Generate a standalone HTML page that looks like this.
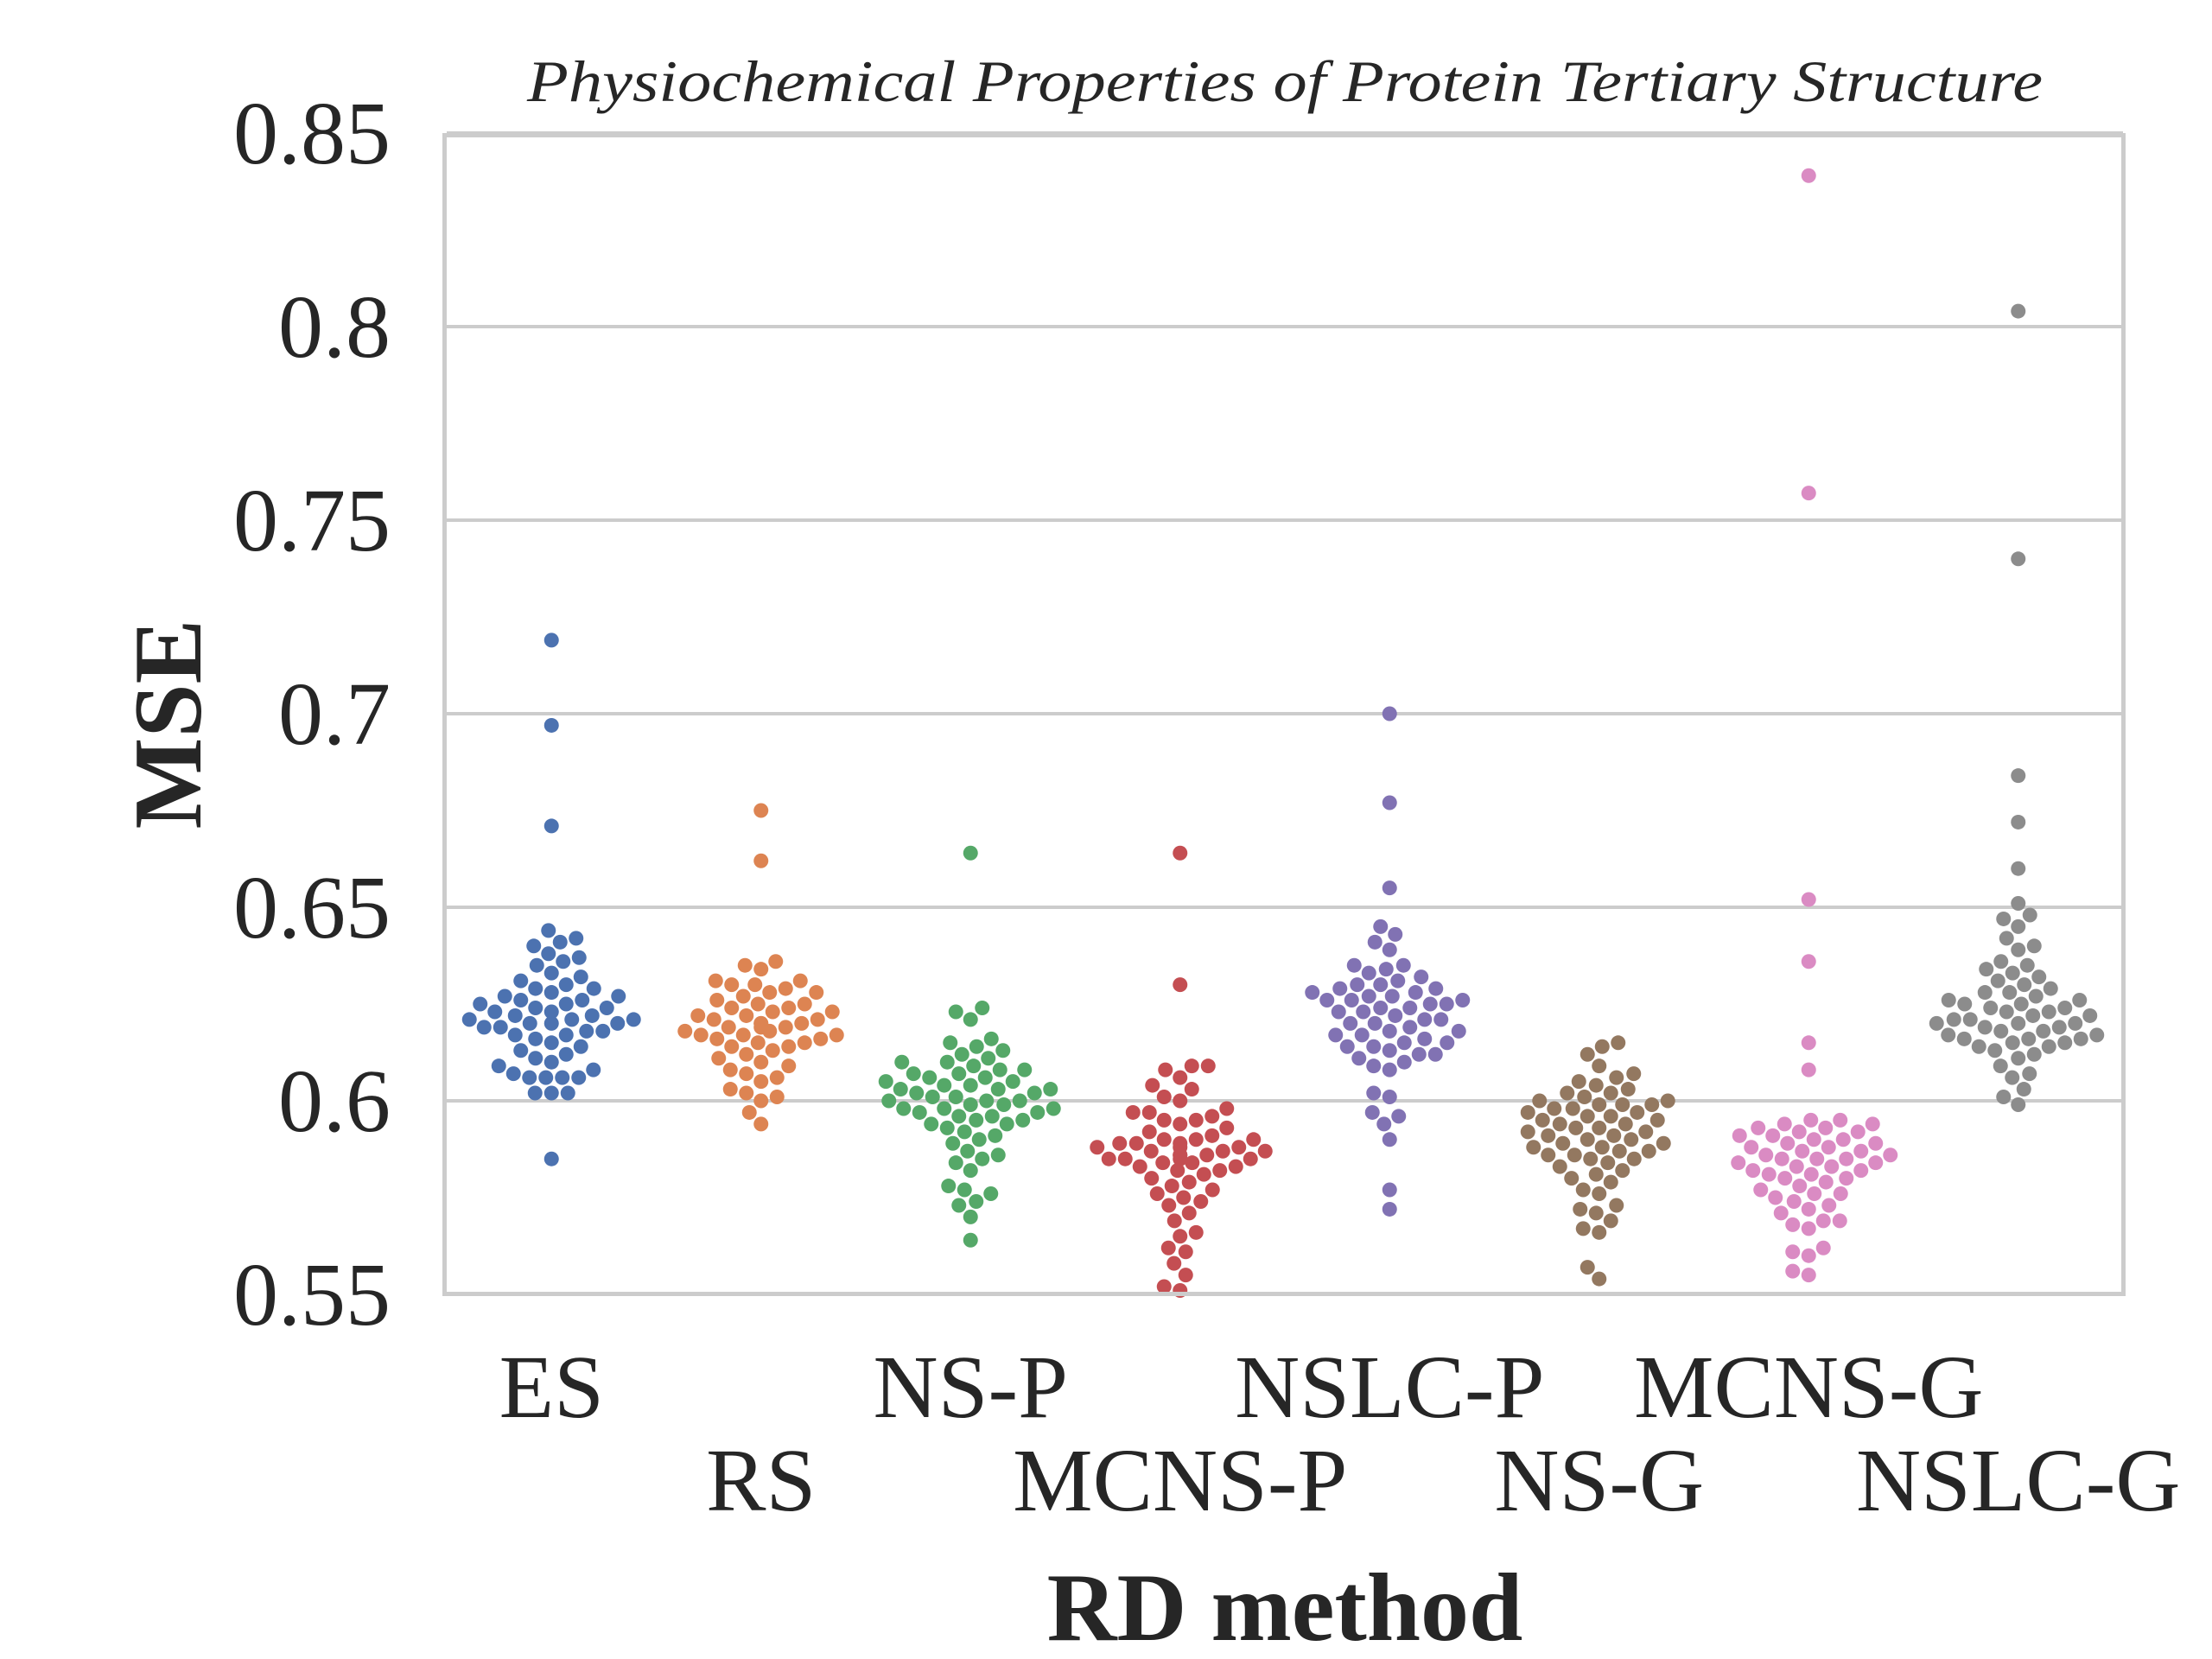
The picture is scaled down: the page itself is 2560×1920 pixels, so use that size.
<!DOCTYPE html>
<html><head><meta charset="utf-8"><style>
html,body{margin:0;padding:0;background:#fff}
svg{display:block}
text{font-family:"Liberation Serif","Times New Roman",Times,serif;fill:#262626}
</style></head><body>
<svg id="chart" width="2560" height="1920" viewBox="0 0 2560 1920" xmlns="http://www.w3.org/2000/svg" font-family="Liberation Serif, Times New Roman, serif">
<text x="1487" y="117" font-size="68" font-style="italic" text-anchor="middle" textLength="1754" lengthAdjust="spacingAndGlyphs">Physiochemical Properties of Protein Tertiary Structure</text>
<g id="grid"></g>
<g id="yticks"></g>
<g id="xticks"></g>
<g id="dots"></g>
<rect x="514.5" y="156.5" width="1943" height="1341" fill="none" stroke="#cccccc" stroke-width="5"/>
<text transform="translate(232,838) rotate(-90)" font-size="112" font-weight="bold" text-anchor="middle">MSE</text>
<text x="1487" y="1898" font-size="112" font-weight="bold" text-anchor="middle">RD method</text>
</svg>
<script>
const categories=["ES","RS","NS-P","MCNS-P","NSLC-P","NS-G","MCNS-G","NSLC-G"];
const yTicks=[0.55,0.6,0.65,0.7,0.75,0.8,0.85];
const yTickLabels=["0.55","0.6","0.65","0.7","0.75","0.8","0.85"];
const colors=["#4c72b0","#dd8452","#55a868","#c44e52","#8172b3","#937860","#da8bc3","#8c8c8c"];
const esVals=[0.719,0.697,0.671,0.644,0.642,0.641,0.640,0.638,0.637,0.636,0.635,0.633,0.632,0.631,0.630,0.629,0.629,0.628,0.627,0.627,0.626,0.626,0.625,0.625,0.624,0.624,0.623,0.623,0.622,0.622,0.621,0.621,0.621,0.620,0.620,0.620,0.619,0.619,0.618,0.618,0.617,0.617,0.616,0.615,0.614,0.613,0.612,0.611,0.610,0.609,0.608,0.607,0.606,0.606,0.606,0.606,0.602,0.602,0.602,0.585];
const rsVals=[0.675,0.662,0.636,0.635,0.634,0.631,0.631,0.630,0.630,0.629,0.628,0.628,0.627,0.626,0.625,0.625,0.624,0.624,0.623,0.623,0.622,0.622,0.621,0.621,0.620,0.620,0.620,0.619,0.619,0.619,0.618,0.618,0.617,0.617,0.617,0.616,0.616,0.615,0.615,0.614,0.614,0.613,0.612,0.611,0.610,0.609,0.608,0.607,0.606,0.605,0.603,0.602,0.601,0.600,0.597,0.594];
const nspVals=[0.664,0.624,0.623,0.621,0.616,0.615,0.614,0.613,0.612,0.611,0.610,0.610,0.609,0.608,0.608,0.607,0.607,0.606,0.606,0.605,0.605,0.604,0.604,0.603,0.603,0.603,0.602,0.602,0.601,0.601,0.600,0.600,0.600,0.599,0.599,0.598,0.598,0.598,0.597,0.597,0.596,0.596,0.595,0.595,0.594,0.594,0.593,0.592,0.591,0.590,0.589,0.587,0.586,0.585,0.584,0.582,0.578,0.577,0.576,0.574,0.573,0.570,0.564];
const mcnspVals=[0.664,0.630,0.609,0.609,0.608,0.606,0.604,0.603,0.601,0.600,0.598,0.597,0.597,0.596,0.595,0.595,0.594,0.593,0.592,0.591,0.590,0.590,0.590,0.589,0.589,0.589,0.588,0.588,0.588,0.587,0.587,0.587,0.586,0.586,0.586,0.585,0.585,0.585,0.585,0.584,0.584,0.583,0.583,0.582,0.582,0.581,0.580,0.579,0.578,0.577,0.576,0.575,0.574,0.573,0.571,0.569,0.566,0.565,0.562,0.561,0.558,0.555,0.552,0.551];
const nslcpVals=[0.700,0.677,0.655,0.645,0.643,0.641,0.639,0.635,0.635,0.634,0.633,0.632,0.631,0.630,0.630,0.629,0.629,0.628,0.628,0.627,0.627,0.626,0.626,0.626,0.625,0.625,0.624,0.624,0.623,0.623,0.622,0.621,0.621,0.620,0.620,0.619,0.618,0.618,0.617,0.617,0.616,0.615,0.615,0.614,0.614,0.613,0.612,0.612,0.611,0.610,0.609,0.608,0.602,0.601,0.597,0.596,0.594,0.590,0.577,0.572];
const nsgVals=[0.615,0.614,0.612,0.609,0.607,0.606,0.605,0.604,0.603,0.602,0.602,0.601,0.600,0.600,0.599,0.599,0.599,0.598,0.598,0.597,0.597,0.596,0.596,0.595,0.595,0.594,0.594,0.593,0.593,0.592,0.592,0.591,0.591,0.590,0.590,0.589,0.589,0.588,0.588,0.587,0.587,0.586,0.586,0.585,0.585,0.584,0.583,0.582,0.581,0.580,0.579,0.577,0.576,0.573,0.572,0.571,0.569,0.567,0.566,0.557,0.554];
const mcnsgVals=[0.839,0.757,0.652,0.636,0.615,0.608,0.595,0.595,0.594,0.594,0.593,0.593,0.592,0.592,0.591,0.591,0.590,0.590,0.589,0.589,0.588,0.588,0.587,0.587,0.586,0.586,0.585,0.585,0.585,0.584,0.584,0.583,0.583,0.582,0.582,0.581,0.581,0.580,0.580,0.579,0.578,0.577,0.576,0.576,0.575,0.574,0.573,0.572,0.571,0.569,0.569,0.568,0.567,0.562,0.561,0.560,0.556,0.555];
const nslcgVals=[0.804,0.740,0.684,0.672,0.660,0.651,0.648,0.647,0.645,0.642,0.640,0.639,0.636,0.635,0.634,0.633,0.632,0.631,0.630,0.629,0.628,0.628,0.627,0.626,0.626,0.625,0.625,0.624,0.624,0.623,0.623,0.622,0.622,0.621,0.621,0.620,0.620,0.620,0.619,0.619,0.618,0.618,0.617,0.617,0.616,0.616,0.616,0.615,0.615,0.614,0.614,0.613,0.612,0.611,0.609,0.607,0.606,0.603,0.601,0.599];
const seriesVals=[esVals,rsVals,nspVals,mcnspVals,nslcpVals,nsgVals,mcnsgVals,nslcgVals];

const NS="http://www.w3.org/2000/svg";
const X0=517,X1=2457,Y0=154,Y1=1498,R=8.5;
function yScale(v){return Y1-(v-0.55)/(0.85-0.55)*(Y1-Y0);}
function xScale(i){const w=(X1-X0)/categories.length;return X0+w*(i+0.5);}
function mk(tag,attrs,parent){const e=document.createElementNS(NS,tag);for(const k in attrs)e.setAttribute(k,attrs[k]);parent.appendChild(e);return e;}

const grid=document.getElementById('grid'),yt=document.getElementById('yticks'),xt=document.getElementById('xticks'),dots=document.getElementById('dots');
yTicks.forEach((t,i)=>{
  const y=yScale(t);
  const l=mk('line',{x1:X0,x2:X1,y1:y,y2:y,stroke:'#cccccc','stroke-width':4},grid);
  
  
  const tx=mk('text',{x:452,y:y+35,'font-size':104,'text-anchor':'end'},yt);
  tx.textContent=yTickLabels[i];
  
  
});
categories.forEach((c,i)=>{
  const tx=mk('text',{x:xScale(i),y:(i%2===0)?1640:1748,'font-size':104,'text-anchor':'middle'},xt);
  tx.textContent=c;
  
  
});
seriesVals.forEach((vals,i)=>{
  const cx=xScale(i);
  const sorted=vals.slice().sort((a,b)=>a-b);
  const placed=[];
  const D=2*R+2;
  sorted.forEach(v=>{
    const y=yScale(v);
    let best=0;
    for(let k=0;k<400;k++){
      const off=(k%2===0?1:-1)*Math.ceil(k/2)*0.5;
      let ok=true;
      for(const p of placed){const dx=p.x-off,dy=p.y-y;if(dx*dx+dy*dy<D*D){ok=false;break;}}
      if(ok){best=off;break;}
    }
    placed.push({x:best,y:y});
    if(y<Y0-R||y>Y1+R)return;
    const c=mk('circle',{cx:cx+best,cy:y,r:R,fill:colors[i]},dots);
    
    
  });
});
</script>
</body></html>
